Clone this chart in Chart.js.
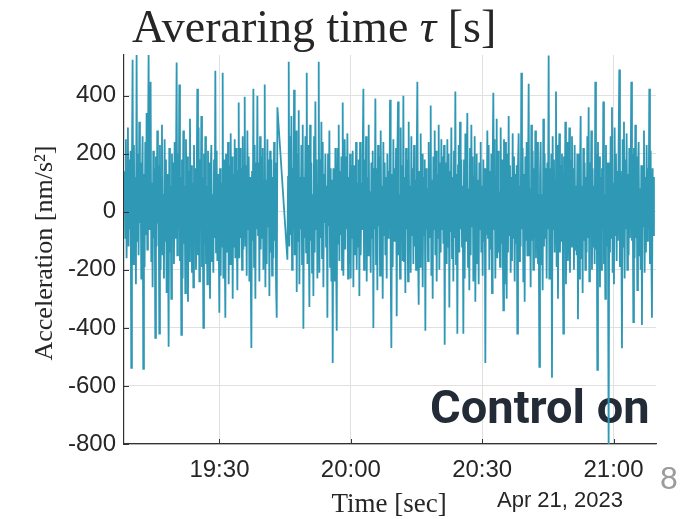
<!DOCTYPE html>
<html>
<head>
<meta charset="utf-8">
<script src="https://cdn.jsdelivr.net/npm/chart.js@4.4.1/dist/chart.umd.min.js"></script>
<style>
  html, body { margin: 0; padding: 0; background: #fff; }
  #wrap { width: 693px; height: 519px; }
</style>
</head>
<body>
<div id="wrap"><canvas id="accChart" width="693" height="519"></canvas></div>
<script>
// sample times of the two recorded stretches (evenly sampled), hh:mm:ss
const seg1Start = '19:08:20';
const seg1End = '19:43:14';
const seg2Start = '19:45:31';
const seg2End = '21:09:14';

// acceleration samples [nm/s^2]
const seg1Values = [
    140, -90, 250, -160, 60, 290, -120, 180, -60, 210,
    -538, 150, 524, -180, 230, -70, 120, -250, 541, -100,
    200, -150, 310, -40, 170, -230, 90, 260, -541, 130,
    -190, 240, -80, 340, -130, 180, 541, -60, 220, 448,
    -170, 100, -260, 210, -90, 150, -434, 190, -120, 280,
    -40, 160, -420, 230, -200, 110, 300, -150, 60, -230,
    250, -100, 180, -280, 130, -50, -465, 220, -140, 90,
    -300, 200, -20, 170, -180, 240, -90, 130, 514, -150,
    200, -60, 438, -170, 120, -424, 180, -230, 280, -110,
    90, -280, 250, -50, 190, -310, 140, -170, 320, -80,
    160, -210, 100, -260, 230, -70, 150, -200, 60, 424,
    -150, 290, -240, 180, -60, 330, -190, 120, -400, 200,
    -110, 260, -180, 90, -250, 210, -130, 170, -300, 120,
    230, -170, 60, -210, 180, -90, 486, -140, 210, -170,
    130, -60, -348, 150, -220, 100, -120, 479, -230, 180,
    -90, -365, 200, 90, -140, 240, -250, 160, -180, 270,
    -90, 190, -300, 130, -120, 250, -160, 220, -40, -270,
    140, 376, -160, 220, -90, 150, -200, 260, -130, 90,
    396, -120, 160, -220, 280, -60, 190, -240, 120, -180,
    -469, 140, -100, 424, -190, 230, -300, 170, -60, 400,
    -80, 170, -240, 260, -130, 190, -90, 220, -200, 110,
    438, -260, 110, -180, 250, -50, 180, -290, 210, -140,
    180, -220, 120, -160, 240, -100, 170, -250, -365, 360
];

const seg2Values = [
    -165, 120, 517, -120, 260, -80, 330, -200, 150, -60,
    420, -150, 90, 280, -276, 200, -100, 350, -250, 120,
    -60, 230, -180, 300, -403, 120, -90, 260, -140, 479,
    -180, 230, -50, -328, 300, -100, 170, -210, 60, -290,
    260, -140, 380, -60, 180, -230, 90, 517, -210, 180,
    -90, 310, -160, 240, -260, 130, -40, 200, -120, 90,
    -365, 200, -50, 280, -190, 150, -240, 110, -521, 150,
    90, -240, 220, -130, -410, 220, -110, 300, -170, 140,
    -80, 190, -200, 376, -220, 60, 250, -130, 190, -60,
    270, -230, 120, -180, 200, -230, 160, -90, 210, -260,
    160, 40, -150, 240, -200, 100, -120, 180, -290, 240,
    -150, 100, -60, 190, 424, -200, 180, -70, 260, -240,
    120, -150, 300, -130, 70, -210, 170, -90, 210, -400,
    150, -60, 390, -180, 150, -270, 230, -50, 190, -220,
    280, -120, 90, -300, 240, -80, 170, -150, 120, -230,
    200, -90, 140, -60, 386, -180, -469, 130, -190, 250,
    -100, 150, -60, 220, -360, 200, 380, -150, 60, -230,
    290, -100, 160, -170, 400, -170, 120, -280, 220, -60,
    180, -240, 310, -130, 90, -210, 260, -80, 150, -180,
    230, -120, 110, -200, 170, 448, -130, -320, 140, -190,
    270, -100, 200, -260, 120, -80, 180, -410, 150, -60,
    80, -170, 240, -90, 130, 366, -220, 110, -300, 190,
    -60, 280, -150, 210, -240, 130, -90, 300, -200, 170,
    -140, 250, -60, 190, -110, 230, -458, 170, 50, -180,
    250, -120, 200, -330, 140, -70, 290, -160, 120, -240,
    210, -90, 414, -180, 130, -420, 160, 230, -140, 310,
    -60, 180, -120, 90, -420, 180, -230, 270, -100, 130,
    340, -190, 80, -270, 220, -150, 300, -50, 190, -240,
    120, 260, -310, 60, 200, -180, 110, -250, 170, -60,
    240, -140, 90, -220, 180, -100, 150, -521, 150, -80,
    280, -90, 230, -200, 140, -130, 200, -280, 170, 410,
    -60, 250, -230, 100, 320, -160, 210, -140, 70, -190,
    290, -110, 180, -60, -340, 250, -250, 240, 40, -300,
    200, -140, 330, -80, 160, -210, 120, -170, 270, -90,
    190, -240, 130, -110, 160, -420, 160, 270, -170, 90,
    -120, 479, -60, 220, -240, 130, -310, 190, -100, 240,
    -150, 80, 441, -150, 80, -260, 300, -100, 210, -200,
    150, -90, 280, -160, 120, 240, -180, 60, -534, 120,
    240, -180, 60, -270, 320, -120, 200, -90, 150, -230,
    170, -60, 538, -230, 150, -100, 200, -572, 260, -60,
    180, -140, 110, 414, -190, 230, -300, 110, 270, -140,
    160, -100, 200, -60, -420, 190, -80, 310, -250, 140,
    240, -170, 60, 290, -210, 180, -120, 260, -60, 150,
    -200, 230, -130, 90, -150, 200, -370, 200, -230, 130,
    330, -160, 90, -280, 220, -100, 170, -200, 120, -140,
    260, -90, 360, -240, 170, -50, 280, -200, 150, -120,
    90, -180, 448, -130, 200, -545, 240, -90, 190, -260,
    120, -200, 150, -60, 380, -180, 60, -300, 230, -120,
    170, -60, -820, 170, -140, 260, -90, 360, -210, 100,
    -250, 290, -80, 200, -170, 140, -100, 230, 490, -190,
    140, -60, -470, 250, -120, 310, -230, 180, -60, 270,
    -200, 130, -150, 220, -90, 100, 448, -100, 200, -380,
    220, -160, 300, -90, 190, -270, 130, 240, -150, 80,
    -200, 160, -390, 160, -50, 280, -210, 120, -140, 230,
    -100, 150, -60, 424, -180, 210, -120, -365, 150, -80,
    120
];

// axes
const xMin = '19:08:12';
const xMax = '21:09:42';
const xTickTimes = ['19:30', '20:00', '20:30', '21:00'];
const yTicks = [-800, -600, -400, -200, 0, 200, 400];
const yMin = -800;
const yMax = 540;

const dateLabel = 'Apr 21, 2023';
const traceColor = '#2e98b5';
const textColor = '#262626';

function toMinutes(hms) {
    const parts = hms.split(':').map(Number);
    return parts[0] * 60 + parts[1] + (parts[2] || 0) / 60;
}

function samplePoints(values, start, end) {
    const t0 = toMinutes(start);
    const t1 = toMinutes(end);
    const step = (t1 - t0) / (values.length - 1);
    return values.map((v, i) => ({ x: t0 + i * step, y: v }));
}

const points = samplePoints(seg1Values, seg1Start, seg1End)
    .concat(samplePoints(seg2Values, seg2Start, seg2End));

const xTickValues = xTickTimes.map(toMinutes);

// text around the axes (title, labels, notes)
const decorPlugin = {
    id: 'decor',
    beforeDatasetsDraw(chart) {
        const ctx = chart.ctx;
        ctx.save();
        ctx.fillStyle = '#222b36';
        ctx.font = 'bold 47px Roboto';
        ctx.textBaseline = 'alphabetic';
        ctx.fillText('Control on', 430, 423);
        ctx.restore();
    },
    afterDraw(chart) {
        const ctx = chart.ctx;
        const area = chart.chartArea;
        const xs = chart.scales.x;
        const ys = chart.scales.y;

        ctx.save();
        // inward tick marks
        ctx.strokeStyle = '#333';
        ctx.lineWidth = 1;
        ctx.beginPath();
        yTicks.forEach(v => {
            const py = Math.round(ys.getPixelForValue(v)) + 0.5;
            ctx.moveTo(area.left, py);
            ctx.lineTo(area.left + 5, py);
        });
        xTickValues.forEach(v => {
            const px = Math.round(xs.getPixelForValue(v)) + 0.5;
            ctx.moveTo(px, area.bottom);
            ctx.lineTo(px, area.bottom - 5);
        });
        ctx.stroke();

        ctx.fillStyle = textColor;
        ctx.textBaseline = 'alphabetic';

        // title
        let x = 132;
        ctx.font = '46px "Liberation Serif"';
        ctx.fillText('Averaring time ', x, 42);
        x += ctx.measureText('Averaring time ').width;
        ctx.font = 'italic 46px "Liberation Serif"';
        ctx.fillText('\u03c4', x, 42);
        x += ctx.measureText('\u03c4').width;
        ctx.font = '46px "Liberation Serif"';
        ctx.fillText(' [s]', x, 42);

        // y label
        ctx.save();
        ctx.translate(52, 253);
        ctx.rotate(-Math.PI / 2);
        ctx.font = '26px "Liberation Serif"';
        ctx.textAlign = 'center';
        ctx.fillText('Acceleration [nm/s\u00b2]', 0, 0);
        ctx.restore();

        // x label
        ctx.font = '27px "Liberation Serif"';
        ctx.textAlign = 'center';
        ctx.fillText('Time [sec]', 389, 512);

        ctx.textAlign = 'left';
        ctx.font = '22px "Liberation Sans"';
        ctx.fillText(dateLabel, 497, 507);

        ctx.fillStyle = '#9b9b9b';
        ctx.font = '32px "Liberation Sans"';
        ctx.fillText('8', 660, 489);
        ctx.restore();
    }
};

const ctx = document.getElementById('accChart').getContext('2d');
const accChart = new Chart(ctx, {
    type: 'line',
    data: {
        datasets: [{
            data: points,
            borderColor: traceColor,
            borderWidth: 1.8,
            pointRadius: 0,
            tension: 0,
            fill: false
        }]
    },
    options: {
        responsive: false,
        animation: false,
        parsing: false,
        normalized: true,
        layout: {
            padding: { left: 0, right: 37, top: 55, bottom: 0 }
        },
        plugins: {
            legend: { display: false },
            tooltip: { enabled: false }
        },
        scales: {
            x: {
                type: 'linear',
                min: toMinutes(xMin),
                max: toMinutes(xMax),
                afterBuildTicks: scale => {
                    scale.ticks = xTickValues.map(v => ({ value: v }));
                },
                afterFit: scale => { scale.height = 75; },
                grid: { color: '#e0e0e0', drawTicks: false },
                border: { display: true, color: '#333', width: 1.2 },
                ticks: {
                    padding: 12,
                    color: textColor,
                    font: { family: 'Liberation Sans', size: 24 },
                    maxRotation: 0,
                    callback: function(value) {
                        const i = xTickValues.indexOf(value);
                        return i >= 0 ? xTickTimes[i] : '';
                    }
                }
            },
            y: {
                min: yMin,
                max: yMax,
                afterBuildTicks: scale => {
                    scale.ticks = yTicks.map(v => ({ value: v }));
                },
                afterFit: scale => { scale.width = 124; },
                grid: { color: '#e0e0e0', drawTicks: false },
                border: { display: true, color: '#333', width: 1.2 },
                ticks: {
                    padding: 8,
                    color: textColor,
                    font: { family: 'Liberation Sans', size: 24 }
                }
            }
        }
    },
    plugins: [decorPlugin]
});
</script>
</body>
</html>
